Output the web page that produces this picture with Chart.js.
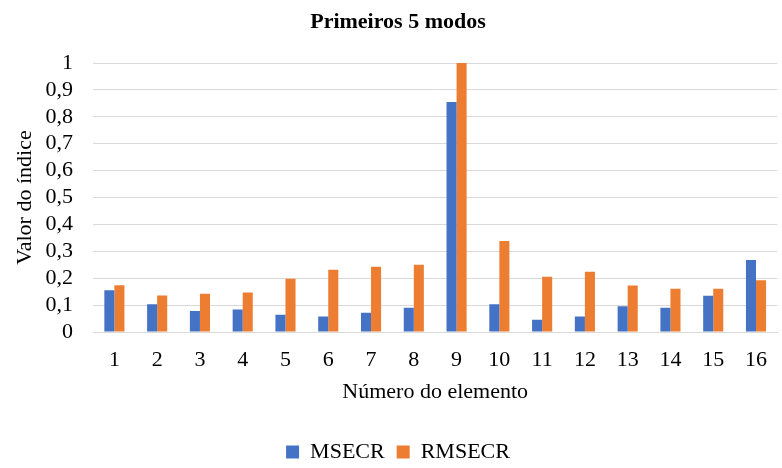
<!DOCTYPE html>
<html>
<head>
<meta charset="utf-8">
<script src="https://cdn.jsdelivr.net/npm/chart.js@4/dist/chart.umd.min.js"></script>
<style>
  html, body { margin: 0; padding: 0; background: #ffffff; }
  #wrap { width: 782px; height: 468px; }
</style>
</head>
<body>
<div id="wrap"><canvas id="c" width="782" height="468"></canvas></div>
<script>
// Element numbers along the x axis
const elementos = ['1','2','3','4','5','6','7','8','9','10','11','12','13','14','15','16'];

// Index values per element
const msecr  = [0.155, 0.103, 0.078, 0.084, 0.064, 0.058, 0.072, 0.090, 0.855, 0.103, 0.046, 0.058, 0.096, 0.090, 0.135, 0.268];
const rmsecr = [0.174, 0.136, 0.142, 0.147, 0.198, 0.231, 0.243, 0.250, 1.000, 0.338, 0.205, 0.224, 0.173, 0.161, 0.161, 0.192];

// Y axis tick values
const yTicks = [0, 0.1, 0.2, 0.3, 0.4, 0.5, 0.6, 0.7, 0.8, 0.9, 1];

const serif = "'Liberation Serif', 'Times New Roman', serif";
Chart.defaults.font.family = serif;
Chart.defaults.color = '#000000';

new Chart(document.getElementById('c'), {
  type: 'bar',
  data: {
    labels: elementos,
    datasets: [
      { label: 'MSECR',  data: msecr,  backgroundColor: '#4472C4', borderWidth: 0 },
      { label: 'RMSECR', data: rmsecr, backgroundColor: '#ED7D31', borderWidth: 0 }
    ]
  },
  options: {
    responsive: false,
    animation: false,
    devicePixelRatio: 1,
    layout: { padding: { left: 14, right: 0, top: 0, bottom: -5 } },
    datasets: { bar: { categoryPercentage: 0.47, barPercentage: 1.0 } },
    plugins: {
      title: {
        display: true,
        text: 'Primeiros 5 modos',
        font: { family: serif, size: 22, weight: 'bold' },
        color: '#000000',
        padding: { top: 9, bottom: 27.6 }
      },
      legend: {
        position: 'bottom',
        labels: {
          boxWidth: 13,
          boxHeight: 13,
          padding: 12,
          font: { family: serif, size: 22 },
          color: '#000000'
        }
      },
      tooltip: { enabled: false }
    },
    scales: {
      x: {
        grid: { display: false, drawTicks: false },
        border: { display: true, color: '#d9d9d9', width: 1 },
        ticks: {
          font: { family: serif, size: 22 },
          color: '#000000',
          padding: 15,
          autoSkip: false,
          maxRotation: 0
        },
        title: {
          display: true,
          text: 'Número do elemento',
          font: { family: serif, size: 22 },
          color: '#000000',
          padding: { top: 5, bottom: 24 }
        },
        afterFit: (s) => { s.height = 97; }
      },
      y: {
        min: 0,
        max: 1,
        afterBuildTicks: (s) => { s.ticks = yTicks.map(v => ({ value: v })); },
        grid: { color: '#d9d9d9', drawTicks: false, lineWidth: 1 },
        border: { display: false },
        ticks: {
          font: { family: serif, size: 22 },
          color: '#000000',
          padding: 20,
          autoSkip: false,
          callback: (v) => String(Math.round(v * 10) / 10).replace('.', ',')
        },
        title: {
          display: true,
          text: 'Valor do índice',
          font: { family: serif, size: 22 },
          color: '#000000',
          padding: { top: -2, bottom: 0 }
        },
        afterFit: (s) => { s.width = 79; }
      }
    }
  }
});
</script>
</body>
</html>
